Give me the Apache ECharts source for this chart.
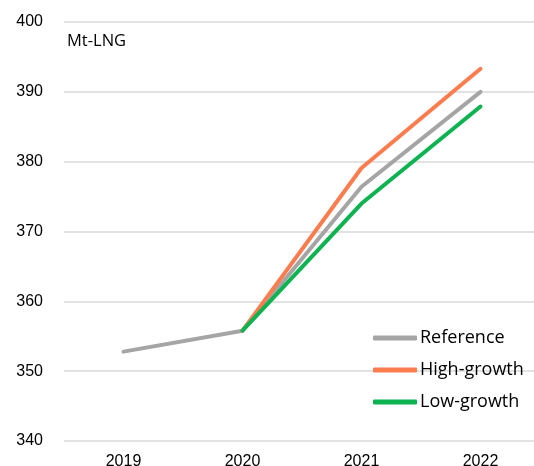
<!DOCTYPE html>
<html>
<head>
<meta charset="utf-8">
<script src="https://cdn.jsdelivr.net/npm/echarts@6/dist/echarts.min.js"></script>
<style>
  html, body { margin: 0; padding: 0; background: #fff; }
  #chart { width: 534px; height: 466px; }
</style>
</head>
<body>
<div id="chart"></div>
<script>
// LNG demand outlook, Mt-LNG
const years = ['2019', '2020', '2021', '2022'];
const referenceCase = [352.8, 355.8, 376.4, 390.0];
const highGrowth = [null, 355.8, 379.1, 393.3];
const lowGrowth = [null, 355.8, 374.0, 387.9];
const unitLabel = 'Mt-LNG';

const NUM_FONT = '"Liberation Sans", Arial, sans-serif';
const TEXT_FONT = '"Open Sans", "Liberation Sans", sans-serif';

function lineSeries(name, data, color) {
  return {
    name: name,
    type: 'line',
    data: data,
    showSymbol: false,
    symbol: 'none',
    connectNulls: false,
    color: color,
    lineStyle: { width: 4, color: color, cap: 'round', join: 'round' },
    emphasis: { disabled: true }
  };
}

const chart = echarts.init(document.getElementById('chart'), null, { renderer: 'canvas' });
chart.setOption({
  animation: false,
  backgroundColor: '#ffffff',
  grid: {
    left: 64, top: 22, right: -6, bottom: 25,
    containLabel: false,
    outerBoundsMode: 'none'
  },
  xAxis: {
    type: 'category',
    data: years,
    boundaryGap: true,
    axisLine: { show: false },
    axisTick: { show: false },
    axisLabel: { color: '#000', fontSize: 16, fontFamily: NUM_FONT, margin: 13 }
  },
  yAxis: {
    type: 'value',
    min: 340,
    max: 400,
    interval: 10,
    axisLine: { show: false },
    axisTick: { show: false },
    axisLabel: { color: '#000', fontSize: 16, fontFamily: NUM_FONT, margin: 21 },
    splitLine: { lineStyle: { color: '#d9d9d9', width: 1.5 } }
  },
  legend: {
    orient: 'vertical',
    left: 373,
    top: 328,
    padding: 0,
    itemWidth: 44,
    itemHeight: 5,
    itemGap: 12,
    icon: 'roundRect',
    textStyle: { color: '#000', fontSize: 18, lineHeight: 20, fontFamily: TEXT_FONT, padding: [0, 0, 0, -2] },
    data: ['Reference', 'High-growth', 'Low-growth']
  },
  graphic: [{
    type: 'text',
    left: 67,
    top: 33,
    style: { text: unitLabel, fill: '#000', font: '16.5px ' + TEXT_FONT }
  }],
  series: [
    lineSeries('Reference', referenceCase, '#a5a5a5'),
    lineSeries('High-growth', highGrowth, '#fb7d4f'),
    lineSeries('Low-growth', lowGrowth, '#0db350')
  ]
});
</script>
</body>
</html>
